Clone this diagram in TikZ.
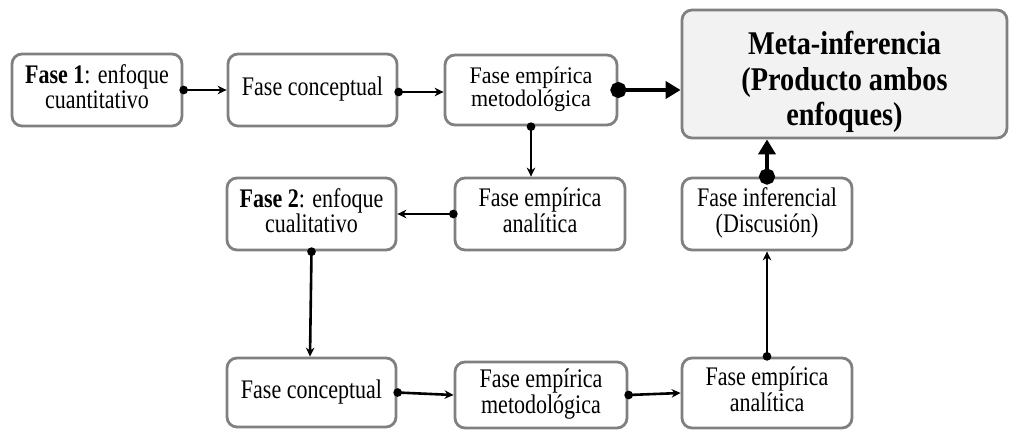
\documentclass[tikz,border=0pt]{standalone}
\usepackage{fontspec}
\usepackage{graphicx}
\setmainfont{Liberation Serif}
\usetikzlibrary{arrows.meta}
\newcommand\tx[2][1.22]{\scalebox{1}[#1]{\begin{tabular}{@{}c@{}}#2\end{tabular}}}
\newcommand\metatx[2]{\raisebox{#1}[\height][\depth]{\scalebox{1}[1.17]{\begin{tabular}{@{}c@{}}#2\end{tabular}}}}
\tikzset{
  phase/.style={draw=boxgray, line width=2.8pt, rounded corners=10pt, fill=white,
    align=center, inner sep=0pt, font=\fontsize{22}{19.5}\selectfont},
  meta/.style={phase, fill=metafill, font=\fontsize{28.3}{30}\selectfont\bfseries},
  link/.style={line width=2.6pt, shorten <=-4pt, {Circle[length=8.5pt]}-{Stealth[length=9pt,width=8.5pt]}},
  biglink/.style={line width=4.8pt, shorten <=-8pt, {Circle[length=16pt]}-{Triangle[length=15pt,width=17pt]}}
}
\definecolor{boxgray}{HTML}{808080}
\definecolor{metafill}{HTML}{F2F2F2}
\begin{document}
\begin{tikzpicture}[x=1pt,y=-1pt]
\useasboundingbox (0,0) rectangle (1013,429);
% row 1
\node[phase, minimum width=170pt, minimum height=72pt] (b1) at (97,90) {\tx{\textbf{Fase 1}: enfoque\\cuantitativo}};
\node[phase, minimum width=169pt, minimum height=72pt] (b2) at (312.5,90) {\tx{Fase conceptual}};
\node[phase, minimum width=172pt, minimum height=70pt] (b3) at (531,90) {\tx[1.08]{Fase empírica\\metodológica}};
\node[meta, minimum width=325pt, minimum height=128pt] (mt) at (844.5,74) {\metatx{-9pt}{Meta-inferencia\\(Producto ambos\\enfoques)}};
% row 2
\node[phase, minimum width=169pt, minimum height=72pt] (f2) at (311.5,214) {\tx{\textbf{Fase 2}: enfoque\\cualitativo}};
\node[phase, minimum width=170pt, minimum height=72pt] (an) at (540,214) {\tx{Fase empírica\\analítica}};
\node[phase, minimum width=170pt, minimum height=72pt] (inf) at (767,214) {\tx{Fase inferencial\\(Discusión)}};
% row 3
\node[phase, minimum width=169pt, minimum height=69pt] (c3) at (311.5,392.5) {\tx{Fase conceptual}};
\node[phase, minimum width=172pt, minimum height=66pt] (m3) at (541,395) {\tx{Fase empírica\\metodológica}};
\node[phase, minimum width=170pt, minimum height=70pt] (a3) at (767,393) {\tx{Fase empírica\\analítica}};
% connectors
\draw[link] (b1.east) -- (b2.west);
\draw[link] ([yshift=-2pt]b2.east) -- ([yshift=-2pt]b3.west);
\draw[biglink] (b3.east) -- (b3.east -| mt.west);
\draw[link] (b3.south) -- (b3.south |- an.north);
\draw[link] (an.west) -- (f2.east);
\draw[link] (f2.south) -- ([xshift=-1.5pt]c3.north);
\draw[link] (c3.east) -- (m3.west);
\draw[link] (m3.east) -- (a3.west);
\draw[link] (a3.north) -- (inf.south);
\draw[biglink] (inf.north) -- (inf.north |- mt.south);
\end{tikzpicture}
\end{document}
